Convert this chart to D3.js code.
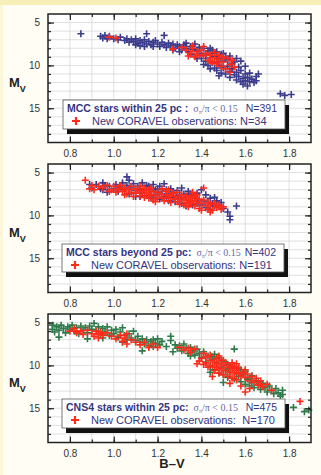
<!DOCTYPE html>
<html>
<head>
<meta charset="utf-8">
<script src="https://cdn.jsdelivr.net/npm/d3@7"></script>
<style>
  html, body { margin: 0; padding: 0; background: #fffdf4; }
  svg { display: block; }
</style>
</head>
<body>
<div id="chart"></div>
<script>
// --- data: [B-V, Mv] ---
const mccNearStars = [
  [0.85,6.3],[0.94,6.6],[0.95,6.8],[0.96,6.5],[0.97,6.9],[0.98,6.6],[1.00,6.9],[1.02,7.0],[1.03,6.7],[1.05,7.1],
  [1.06,6.9],[1.07,7.3],[1.08,7.0],[1.09,7.2],[1.10,6.9],[1.11,7.4],[1.12,7.1],[1.12,7.7],[1.13,7.3],[1.14,7.0],
  [1.15,6.3],[1.15,7.5],[1.16,7.2],[1.17,7.6],[1.18,7.3],[1.19,7.1],[1.20,7.5],[1.21,7.8],[1.22,7.3],[1.23,6.5],
  [1.23,7.6],[1.24,7.9],[1.25,7.4],[1.26,7.7],[1.27,7.5],[1.28,8.0],[1.29,7.6],[1.30,7.8],[1.31,8.2],[1.32,7.6],
  [1.33,8.0],[1.34,8.4],[1.35,7.8],[1.35,8.7],[1.36,8.1],[1.37,7.5],[1.37,8.9],[1.38,8.3],[1.39,7.9],[1.40,8.6],
  [1.40,9.2],[1.41,8.0],[1.42,8.8],[1.42,9.5],[1.43,8.3],[1.43,10.0],[1.44,9.1],[1.44,8.0],[1.45,9.7],[1.45,8.6],
  [1.46,10.3],[1.46,9.0],[1.47,8.4],[1.47,9.6],[1.47,10.6],[1.48,9.2],[1.48,10.0],[1.49,8.7],[1.49,10.9],[1.50,9.5],
  [1.50,10.3],[1.51,9.0],[1.51,11.0],[1.52,10.1],[1.52,9.3],[1.53,10.7],[1.53,11.4],[1.54,9.8],[1.54,10.4],[1.55,11.1],
  [1.55,9.6],[1.56,10.8],[1.56,11.7],[1.57,10.2],[1.57,11.3],[1.58,11.9],[1.58,10.6],[1.59,11.5],[1.59,12.2],[1.60,11.0],
  [1.60,11.8],[1.61,12.4],[1.61,11.4],[1.62,11.9],[1.63,11.6],[1.64,12.0],[1.65,11.3],[1.65,11.8],[1.66,11.0],[1.50,8.6],
  [1.45,8.2],[1.53,8.9],[1.56,9.2],[1.58,9.5],[1.60,10.1],[1.62,10.9],[1.48,11.2],[1.38,9.2],[1.41,9.9],[1.44,10.4],
  [1.30,8.4],[1.33,7.4],[1.27,8.2],[1.18,7.8],[1.14,7.8],[1.10,7.6],[1.76,13.3],[1.78,13.5],[1.81,13.4]
];
const mccNearNew = [
  [0.98,6.7],[1.01,6.8],[1.27,8.1],[1.31,7.9],[1.33,8.2],[1.34,8.9],[1.35,8.6],[1.36,7.7],[1.37,9.0],[1.38,8.4],
  [1.39,8.8],[1.40,8.2],[1.41,8.9],[1.42,8.6],[1.43,9.4],[1.44,8.8],[1.45,9.6],[1.46,8.5],[1.46,9.1],[1.47,9.8],
  [1.48,8.8],[1.48,9.3],[1.49,10.1],[1.50,9.0],[1.50,9.6],[1.51,10.4],[1.52,9.2],[1.53,9.9],[1.53,10.8],[1.54,9.4],
  [1.55,10.2],[1.36,8.0],[1.41,7.8],[1.44,9.5]
];
const mccFarStars = [
  [0.89,6.4],[0.90,6.8],[0.92,6.4],[0.94,6.9],[0.95,6.2],[0.96,6.5],[0.97,7.3],[0.98,6.6],[1.00,6.9],[1.01,6.4],
  [1.02,7.2],[1.03,6.7],[1.04,6.2],[1.05,7.0],[1.06,5.5],[1.06,6.5],[1.07,5.9],[1.07,7.5],[1.08,6.8],[1.09,6.3],
  [1.10,7.1],[1.10,7.8],[1.11,6.6],[1.12,6.9],[1.13,6.2],[1.13,7.4],[1.14,7.0],[1.15,7.7],[1.16,6.6],[1.17,7.2],
  [1.18,6.4],[1.18,7.9],[1.19,7.0],[1.20,7.5],[1.21,6.6],[1.21,8.1],[1.22,7.2],[1.23,6.3],[1.23,7.8],[1.24,7.0],
  [1.25,7.5],[1.25,8.3],[1.26,6.9],[1.27,7.9],[1.27,7.3],[1.28,8.4],[1.29,7.1],[1.29,7.7],[1.30,8.1],[1.31,6.8],
  [1.31,8.6],[1.32,7.5],[1.33,7.9],[1.33,8.9],[1.34,7.2],[1.35,8.3],[1.36,7.7],[1.36,8.8],[1.37,8.0],[1.38,7.4],
  [1.38,8.6],[1.39,8.2],[1.40,7.0],[1.40,8.8],[1.41,8.3],[1.42,7.6],[1.42,9.1],[1.43,8.5],[1.44,8.0],[1.44,9.3],
  [1.45,8.6],[1.46,7.9],[1.46,8.9],[1.47,8.3],[1.48,8.8],[1.49,8.5],[1.50,9.2],[1.52,9.6],[1.53,10.1],[1.53,10.5],
  [1.56,8.9],[1.15,6.5],[1.20,6.9],[0.95,7.0],[1.24,7.9],[1.35,7.5],[1.30,7.6],[1.17,8.0],[1.12,7.8],[1.02,6.9]
];
const mccFarNew = [
  [0.87,5.9],[0.89,6.9],[0.90,6.5],[0.91,7.0],[0.93,6.6],[0.95,6.8],[0.97,6.5],[0.99,7.0],[1.00,6.6],[1.01,7.3],
  [1.02,6.9],[1.03,6.5],[1.04,7.2],[1.05,6.8],[1.06,7.5],[1.07,7.0],[1.08,6.6],[1.08,7.3],[1.09,7.8],[1.10,6.9],
  [1.10,7.4],[1.11,7.1],[1.12,6.6],[1.12,7.7],[1.13,7.2],[1.14,6.8],[1.14,7.9],[1.15,7.4],[1.16,7.0],[1.16,8.0],
  [1.17,7.6],[1.18,7.2],[1.18,8.2],[1.19,7.7],[1.20,7.3],[1.20,8.0],[1.21,7.5],[1.22,7.9],[1.22,6.9],[1.23,8.3],
  [1.24,7.6],[1.24,7.2],[1.25,8.0],[1.26,7.7],[1.26,8.5],[1.27,7.4],[1.28,8.1],[1.28,7.8],[1.29,8.4],[1.30,7.9],
  [1.30,8.7],[1.31,7.6],[1.31,8.2],[1.32,8.0],[1.33,8.5],[1.33,7.7],[1.34,8.2],[1.34,9.0],[1.35,7.9],[1.35,8.6],
  [1.36,8.3],[1.37,7.8],[1.37,8.9],[1.38,8.4],[1.39,8.1],[1.39,9.2],[1.40,8.6],[1.40,9.4],[1.41,8.2],[1.41,6.8],
  [1.42,8.9],[1.43,8.5],[1.43,9.3],[1.44,8.7],[1.45,9.4],[1.46,8.6],[1.47,9.1],[1.48,8.8],[1.49,9.3],[1.50,9.0],
  [1.38,7.6],[1.29,7.3],[1.17,6.8],[1.05,7.6],[0.98,7.2],[1.36,7.3],[1.25,7.0],[1.19,8.4],[1.44,9.6],[1.32,8.8]
];
const cns4Stars = [
  [0.72,5.3],[0.72,5.8],[0.73,6.1],[0.74,5.5],[0.75,5.9],[0.75,6.7],[0.76,5.3],[0.77,5.7],[0.78,6.2],[0.79,5.5],
  [0.80,5.8],[0.81,5.3],[0.82,6.0],[0.83,5.6],[0.84,6.3],[0.85,5.4],[0.86,5.9],[0.87,5.6],[0.88,6.2],[0.88,6.9],
  [0.89,5.4],[0.90,5.8],[0.91,5.1],[0.92,6.0],[0.93,5.5],[0.94,6.3],[0.95,5.7],[0.96,6.1],[0.97,5.5],[0.98,6.5],
  [0.99,5.9],[1.00,6.3],[1.01,5.8],[1.02,6.7],[1.03,6.1],[1.04,5.6],[1.05,6.5],[1.06,7.0],[1.07,6.3],[1.08,6.8],
  [1.09,6.0],[1.10,7.1],[1.11,6.6],[1.12,7.3],[1.13,8.3],[1.13,6.9],[1.14,7.5],[1.15,7.0],[1.16,7.7],[1.17,7.2],
  [1.18,7.8],[1.19,7.4],[1.20,6.9],[1.21,7.6],[1.22,7.2],[1.24,7.8],[1.26,6.6],[1.26,7.1],[1.27,8.4],[1.28,7.6],
  [1.29,8.0],[1.30,7.7],[1.31,8.3],[1.32,7.5],[1.33,8.0],[1.34,8.6],[1.35,7.9],[1.36,8.3],[1.37,8.8],[1.38,8.1],
  [1.39,8.6],[1.40,9.1],[1.41,8.4],[1.42,9.6],[1.43,8.9],[1.44,10.1],[1.45,9.3],[1.46,8.7],[1.46,10.5],[1.47,9.7],
  [1.48,10.9],[1.48,9.1],[1.49,10.2],[1.50,11.1],[1.50,9.5],[1.51,10.6],[1.52,9.9],[1.52,11.4],[1.53,10.8],[1.54,10.2],
  [1.55,8.1],[1.55,11.6],[1.56,10.9],[1.57,11.3],[1.57,10.3],[1.58,11.9],[1.59,11.1],[1.60,12.2],[1.60,10.7],[1.61,11.6],
  [1.62,12.4],[1.63,11.2],[1.63,12.0],[1.64,12.6],[1.65,11.8],[1.66,12.3],[1.67,12.8],[1.68,12.1],[1.69,12.6],[1.70,13.1],
  [1.71,12.4],[1.72,12.9],[1.73,13.3],[1.74,12.7],[1.75,13.2],[1.76,13.6],[1.77,12.9],[1.77,13.4],[1.82,14.9],[1.87,15.4],
  [1.89,15.2],[0.95,6.8],[1.04,7.3],[1.18,7.0],[1.35,8.9],[1.45,9.0],[1.52,10.4],[1.58,10.5],[1.62,11.5],[1.66,11.9],
  [1.50,12.0],[1.44,10.8]
];
const cns4New = [
  [0.80,6.0],[0.82,5.7],[0.83,6.2],[0.85,6.0],[0.86,6.4],[0.88,5.9],[0.90,6.3],[0.91,6.6],[0.92,6.0],[0.93,6.4],
  [0.93,6.8],[0.94,6.1],[0.95,6.5],[0.97,6.2],[0.99,6.6],[1.01,6.9],[1.03,6.5],[1.04,7.2],[1.05,6.8],[1.06,7.5],
  [1.06,6.3],[1.08,7.0],[1.10,7.3],[1.12,7.6],[1.14,7.3],[1.16,7.9],[1.18,7.5],[1.20,7.9],[1.30,7.9],[1.32,8.2],
  [1.34,8.0],[1.35,8.5],[1.37,8.1],[1.38,9.8],[1.39,9.5],[1.40,9.2],[1.41,8.6],[1.42,9.7],[1.42,9.0],[1.43,10.2],
  [1.44,9.4],[1.44,8.8],[1.45,10.0],[1.46,9.6],[1.46,10.6],[1.47,9.2],[1.47,10.2],[1.48,9.8],[1.48,10.9],[1.49,9.4],
  [1.49,10.4],[1.50,10.0],[1.50,11.1],[1.51,9.7],[1.51,10.6],[1.52,10.2],[1.52,11.3],[1.53,10.0],[1.53,10.8],[1.54,10.4],
  [1.54,11.5],[1.55,10.1],[1.55,11.0],[1.56,10.6],[1.56,11.7],[1.57,10.9],[1.57,10.3],[1.58,11.2],[1.59,10.8],[1.60,11.4],
  [1.60,13.1],[1.61,11.0],[1.62,11.8],[1.63,11.3],[1.64,12.0],[1.65,11.5],[1.66,12.3],[1.67,11.8],[1.68,12.5],[1.70,12.2],
  [1.72,12.9],[1.85,14.2],[1.45,11.3],[1.41,9.9],[1.53,12.1],[1.58,12.4],[1.62,12.7],[1.48,8.9],[1.56,9.8],[1.50,9.4],
  [1.54,9.7],[1.60,10.5]
];

const xTickLabels = [0.8, 1.0, 1.2, 1.4, 1.6, 1.8];
const yTickLabels = [5, 10, 15];

const panels = [
  { top: 14, stars: mccNearStars, news: mccNearNew, color: '#3c3c8e',
    title: 'MCC stars within 25 pc :', nAll: 'N=391', nNew: 'N=34', nNewEnd: null, box: [63, 100, 222, 29] },
  { top: 164, stars: mccFarStars, news: mccFarNew, color: '#3c3c8e',
    title: 'MCC stars beyond 25 pc:', nAll: 'N=402', nNew: 'N=191', nNewEnd: 272, box: [62, 244, 222, 28] },
  { top: 314, stars: cns4Stars, news: cns4New, color: '#2f7a4a',
    title: 'CNS4 stars within 25 pc:', nAll: 'N=475', nNew: 'N=170', nNewEnd: 275, box: [62, 399, 223, 29] }
];

const width = 321, height = 475;
const left = 48, right = 311, plotH = 128.5;

const svg = d3.select('#chart').append('svg')
  .attr('width', width)
  .attr('height', height)
  .style('font-family', 'Arial, "Liberation Sans", sans-serif');

// 背景色带
svg.append('rect').attr('width', width).attr('height', height).attr('fill', '#fffdf4');
svg.append('rect').attr('width', width).attr('height', 5).attr('fill', '#f6f0b8');
svg.append('rect').attr('y', 5).attr('width', 3).attr('height', height - 5).attr('fill', '#fbf7d8');

const x = d3.scaleLinear().domain([0.7, 1.9]).range([left, right]);
const red = '#ff2a1a';

function plus(sel, size) {
  return sel.attr('d', `M${-size},0H${size}M0,${-size}V${size}`);
}

panels.forEach(p => {
  const y = d3.scaleLinear().domain([4, 19]).range([p.top, p.top + plotH]);
  const g = svg.append('g');

  g.append('rect')
    .attr('x', left).attr('y', p.top)
    .attr('width', right - left).attr('height', plotH)
    .attr('fill', '#fff');

  // grid
  g.append('g').selectAll('line')
    .data(d3.range(8, 19).map(v => v / 10))
    .join('line')
    .attr('x1', d => x(d)).attr('x2', d => x(d))
    .attr('y1', p.top).attr('y2', p.top + plotH)
    .attr('stroke', '#d2d2d2').attr('stroke-width', 0.7);
  g.append('g').selectAll('line')
    .data(d3.range(5, 19))
    .join('line')
    .attr('x1', left).attr('x2', right)
    .attr('y1', d => y(d)).attr('y2', d => y(d))
    .attr('stroke', '#d2d2d2').attr('stroke-width', 0.7);

  // points
  const pts = g.append('g').attr('fill', 'none').attr('stroke-width', 1.6);
  pts.selectAll('path.s')
    .data(p.stars)
    .join('path').attr('class', 's')
    .attr('stroke', p.color)
    .attr('transform', d => `translate(${x(d[0])},${y(d[1])})`)
    .call(plus, 3.5);
  pts.selectAll('path.n')
    .data(p.news)
    .join('path').attr('class', 'n')
    .attr('stroke', red)
    .attr('transform', d => `translate(${x(d[0])},${y(d[1])})`)
    .call(plus, 3.5);

  // axes (ticks inward)
  const minorX = d3.range(8, 19).map(v => v / 10);
  const minorY = d3.range(5, 19);
  const bottom = p.top + plotH;

  const styleAxis = a => {
    a.select('.domain').remove();
    a.selectAll('line').attr('stroke', '#222').attr('stroke-width', 1.2);
    a.selectAll('text').attr('fill', '#333').style('font-size', '10px');
  };

  g.append('g').attr('transform', `translate(0,${bottom})`)
    .call(d3.axisBottom(x).tickValues(minorX).tickSize(-3).tickFormat(''))
    .call(styleAxis);
  g.append('g').attr('transform', `translate(0,${bottom})`)
    .call(d3.axisBottom(x).tickValues(xTickLabels).tickSizeInner(-6).tickSizeOuter(0)
      .tickPadding(7).tickFormat(d3.format('.1f')))
    .call(styleAxis);
  g.append('g').attr('transform', `translate(0,${p.top})`)
    .call(d3.axisTop(x).tickValues(xTickLabels).tickSize(-6).tickFormat(''))
    .call(styleAxis);
  g.append('g').attr('transform', `translate(0,${p.top})`)
    .call(d3.axisTop(x).tickValues(minorX).tickSize(-3).tickFormat(''))
    .call(styleAxis);

  g.append('g').attr('transform', `translate(${left},0)`)
    .call(d3.axisLeft(y).tickValues(minorY).tickSize(-3).tickFormat(''))
    .call(styleAxis);
  g.append('g').attr('transform', `translate(${left},0)`)
    .call(d3.axisLeft(y).tickValues(yTickLabels).tickSizeInner(-6).tickSizeOuter(0).tickPadding(8))
    .call(styleAxis);
  g.append('g').attr('transform', `translate(${right},0)`)
    .call(d3.axisRight(y).tickValues(minorY).tickSize(-3).tickFormat(''))
    .call(styleAxis);
  g.append('g').attr('transform', `translate(${right},0)`)
    .call(d3.axisRight(y).tickValues(yTickLabels).tickSize(-6).tickFormat(''))
    .call(styleAxis);

  // frame
  g.append('rect')
    .attr('x', left).attr('y', p.top)
    .attr('width', right - left).attr('height', plotH)
    .attr('fill', 'none').attr('stroke', '#222').attr('stroke-width', 1.5);

  // Mv label
  const mv = g.append('text')
    .attr('x', 9).attr('y', p.top + 73)
    .attr('fill', '#222')
    .style('font-weight', 'bold');
  mv.append('tspan').style('font-size', '13px').text('M');
  mv.append('tspan').style('font-size', '9px').attr('dy', 5).text('V');

  // legend
  const [bx, by, bw, bh] = p.box;
  g.append('rect').attr('x', bx + 4).attr('y', by + 5)
    .attr('width', bw).attr('height', bh).attr('fill', '#111');
  g.append('rect').attr('x', bx).attr('y', by)
    .attr('width', bw).attr('height', bh)
    .attr('fill', '#fff').attr('stroke', '#555').attr('stroke-width', 0.8);

  const l1 = g.append('text').attr('x', bx + 4).attr('y', by + 11.5).attr('fill', '#34347f');
  l1.append('tspan').style('font-size', '10.5px').style('font-weight', 'bold').text(p.title);
  const sig = l1.append('tspan').attr('dx', 5)
    .style('font-family', '"Liberation Serif", "DejaVu Serif", serif')
    .style('font-size', '10px').attr('fill', '#6868a0');
  sig.append('tspan').text('σ');
  sig.append('tspan').attr('dy', 2).style('font-size', '6px').text('π');
  sig.append('tspan').attr('dy', -2).text('/π < 0.15');
  l1.append('tspan').attr('x', bx + bw - 8).attr('text-anchor', 'end')
    .style('font-size', '10.5px').text(p.nAll);

  g.append('path')
    .attr('transform', `translate(${bx + 13},${by + 21})`)
    .attr('stroke', red).attr('stroke-width', 2.2).attr('fill', 'none')
    .call(plus, 4);
  const l2 = g.append('text').attr('x', bx + 29).attr('y', by + 25)
    .attr('fill', '#34347f').style('font-size', '11px');
  if (p.nNewEnd === null) {
    l2.text('New CORAVEL observations: ' + p.nNew);
  } else {
    l2.append('tspan').text('New CORAVEL observations:');
    l2.append('tspan').attr('x', p.nNewEnd).attr('text-anchor', 'end').text(p.nNew);
  }
});

svg.append('text')
  .attr('x', 172).attr('y', 468)
  .attr('text-anchor', 'middle')
  .attr('fill', '#222')
  .style('font-size', '13px').style('font-weight', 'bold')
  .text('B–V');
</script>
</body>
</html>
